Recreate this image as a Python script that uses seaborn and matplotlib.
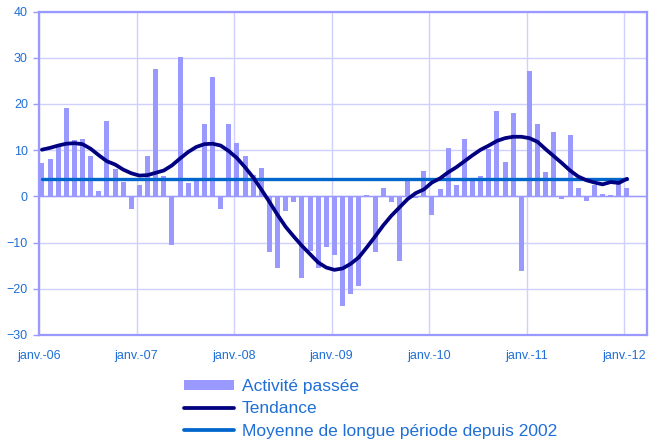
import numpy as np
import pandas as pd
import matplotlib
matplotlib.use("Agg")
import matplotlib.pyplot as plt
import seaborn as sns
from matplotlib.patches import Patch
from matplotlib.lines import Line2D

# Données
mois = pd.date_range("2006-01-01", "2012-01-01", freq="MS")

activite = [7.2, 8.1, 10.6, 19.1, 12.2, 12.4, 8.7, 1.2, 16.3, 5.9, 3.2, -2.7,
            2.4, 8.8, 27.6, 4.4, -10.5, 30.2, 3.0, 3.7, 15.7, 25.8, -2.7, 15.7,
            11.5, 8.8, 4.7, 6.2, -12.1, -15.6, -3.1, -1.3, -17.7, -11.8, -15.6, -10.9,
            -12.6, -23.8, -21.2, -19.5, 0.3, -12.1, 1.9, -1.3, -13.9, 3.8, -0.4, 5.5,
            -4.0, 1.7, 10.4, 2.4, 12.4, 3.5, 4.5, 10.3, 18.5, 7.5, 18.0, -16.1,
            27.1, 15.7, 5.3, 13.9, -0.6, 13.3, 1.8, -1.1, 2.5, 0.6, 0.2, 2.9,
            1.8]

tendance = [10.1, 10.5, 11.0, 11.4, 11.5, 11.3, 10.3, 8.9, 7.6, 6.9, 5.8, 5.0,
            4.5, 4.6, 5.1, 5.6, 6.7, 8.2, 9.6, 10.7, 11.3, 11.4, 11.0, 9.8,
            8.3, 6.3, 4.1, 1.5, -1.2, -4.0, -6.6, -8.7, -10.7, -12.5, -14.3, -15.4,
            -15.9, -15.6, -14.6, -13.2, -11.0, -8.7, -6.3, -4.2, -2.4, -0.6, 0.7, 1.5,
            3.0, 3.9, 5.2, 6.3, 7.6, 8.9, 10.1, 11.0, 12.0, 12.6, 12.9, 12.9,
            12.6, 11.8, 10.2, 8.7, 7.2, 5.6, 4.3, 3.5, 3.0, 2.6, 3.1, 2.9,
            3.8]

moyenne = 3.7

annees = ["janv.-06", "janv.-07", "janv.-08", "janv.-09", "janv.-10", "janv.-11", "janv.-12"]

# Couleurs
c_barre = "#9999FF"
c_tend = "#000080"
c_moy = "#0066CC"
c_grille = "#D0D0FF"
c_texte = "#1F6FD6"

sns.set_theme(style="white")
plt.rcParams["font.family"] = ["Liberation Sans", "DejaVu Sans"]

fig = plt.figure(figsize=(6.5, 4.44), dpi=100)
ax = fig.add_axes([0.06, 0.2455, 0.935, 0.7285])

x = np.arange(len(mois)) + 0.36
df = pd.DataFrame({"x": x, "activite": activite, "tendance": tendance})

sns.barplot(data=df, x="x", y="activite", native_scale=True, color=c_barre,
            saturation=1, width=0.62, errorbar=None, linewidth=0, edgecolor="none",
            ax=ax, zorder=2)
sns.lineplot(data=df, x="x", y="tendance", color=c_tend, linewidth=2.7, ax=ax, zorder=4)
sns.lineplot(x=[x[0], x[-1]], y=[moyenne, moyenne], color=c_moy, linewidth=2.4, ax=ax, zorder=3)

ax.axhline(0, color=c_barre, linewidth=1, zorder=1)

ax.set_xlim(0, 74.8)
ax.set_ylim(-30, 40)
ax.set_yticks(range(-30, 41, 10))
ax.set_xticks(range(0, 73, 12))
ax.set_xticklabels(annees)
ax.set_xlabel("")
ax.set_ylabel("")

ax.grid(True, color=c_grille, linewidth=1)
ax.set_axisbelow(True)
for s in ax.spines.values():
    s.set_color(c_barre)
    s.set_linewidth(1.6)

ax.tick_params(axis="y", left=True, length=4, width=1, color=c_barre,
               labelsize=9, labelcolor=c_texte, pad=4)
ax.tick_params(axis="x", bottom=False, labelsize=9, labelcolor=c_texte, pad=5)

handles = [Patch(facecolor=c_barre, edgecolor="none"),
           Line2D([], [], color=c_tend, linewidth=2.7),
           Line2D([], [], color=c_moy, linewidth=2.7)]
labels = ["Activité passée", "Tendance", "Moyenne de longue période depuis 2002"]
leg = fig.legend(handles, labels, loc="upper left", bbox_to_anchor=(0.283, 0.146),
                 frameon=False, fontsize=12.5, handlelength=2.9, handleheight=0.55,
                 handletextpad=0.45, labelspacing=0.42, borderpad=0, borderaxespad=0)
for t in leg.get_texts():
    t.set_color(c_texte)

fig.savefig("out.png", dpi=100)
